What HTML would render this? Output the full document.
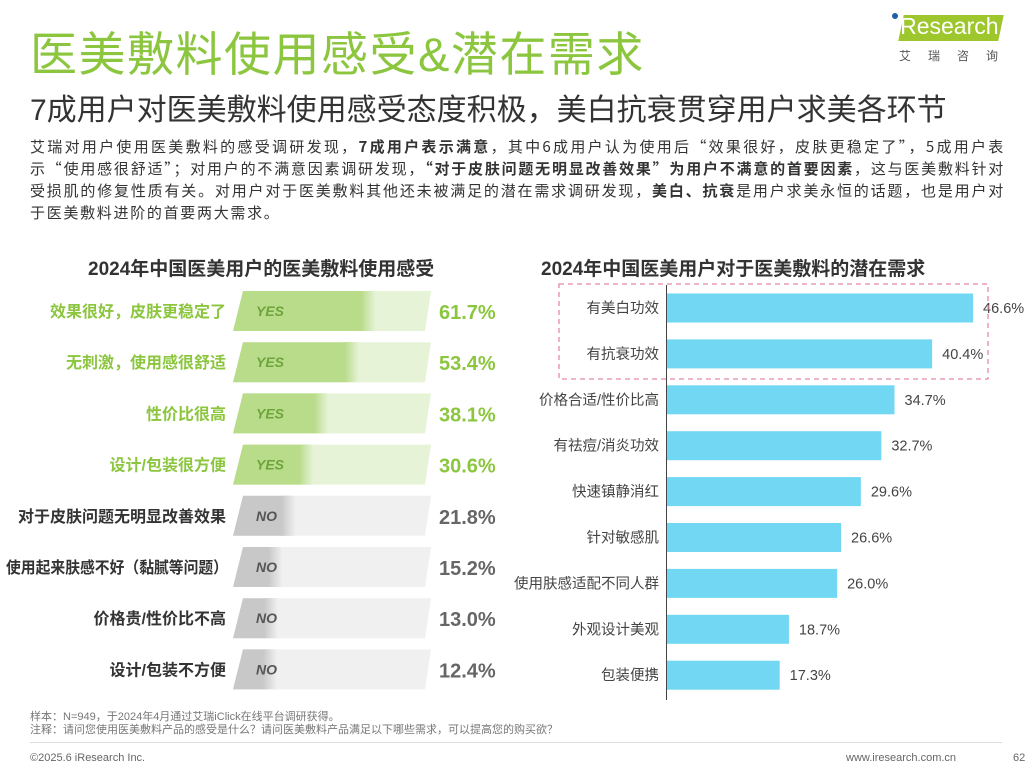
<!DOCTYPE html>
<html><head><meta charset="utf-8">
<style>
body{margin:0;width:1032px;height:771px;background:#fff;font-family:"Liberation Sans","Noto Sans CJK SC",sans-serif;overflow:hidden;position:relative}
.a{position:absolute}
</style></head><body>
<div class="a" style="left:30px;top:16px;font-size:47px;color:#8cc63f;letter-spacing:1.5px;white-space:nowrap">医美敷料使用感受&amp;潜在需求</div>
<div class="a" style="left:893px;top:13px;width:110px;height:28px">
<div class="a" style="left:8px;top:2px;width:100px;height:26px;background:#9dc72c;transform:skewX(-12deg)"></div>
<div class="a" style="left:2px;top:0;font-size:23px;color:#fff">iResearch</div>
<div class="a" style="left:-1px;top:0px;width:6px;height:6px;border-radius:3px;background:#1f5fa8"></div>
<div class="a" style="left:6px;top:34px;font-size:12px;color:#555;letter-spacing:17px;white-space:nowrap">艾瑞咨询</div></div>
<div class="a" style="left:30px;top:85px;font-size:30px;color:#333;white-space:nowrap">7成用户对医美敷料使用感受态度积极，美白抗衰贯穿用户求美各环节</div>
<div class="a" style="left:30px;top:136px;width:975px;font-family:'Noto Sans CJK SC','Liberation Sans',sans-serif;font-size:15px;letter-spacing:1.7px;line-height:22px;color:#333;text-align:justify">艾瑞对用户使用医美敷料的感受调研发现，<b>7成用户表示满意</b>，其中6成用户认为使用后“效果很好，皮肤更稳定了”，5成用户表示“使用感很舒适”；对用户的不满意因素调研发现，<b>“对于皮肤问题无明显改善效果”为用户不满意的首要因素</b>，这与医美敷料针对受损肌的修复性质有关。对用户对于医美敷料其他还未被满足的潜在需求调研发现，<b>美白、抗衰</b>是用户求美永恒的话题，也是用户对于医美敷料进阶的首要两大需求。</div>
<div class="a" style="left:88px;top:254px;font-size:19px;font-weight:bold;color:#333">2024年中国医美用户的医美敷料使用感受</div>
<div class="a" style="left:541px;top:254px;font-size:19px;font-weight:bold;color:#333">2024年中国医美用户对于医美敷料的潜在需求</div>
<svg class="a" style="left:0;top:0" width="1032" height="771" id="svg"></svg>
<div class="a" style="left:30px;top:711px;font-size:11px;color:#777;line-height:13px">样本：N=949，于2024年4月通过艾瑞iClick在线平台调研获得。<br>注释：请问您使用医美敷料产品的感受是什么？请问医美敷料产品满足以下哪些需求，可以提高您的购买欲？</div>
<div class="a" style="left:30px;top:742px;width:972px;border-top:1px solid #ddd"></div>
<div class="a" style="left:30px;top:752px;font-size:11px;color:#666">©2025.6 iResearch Inc.</div>
<div class="a" style="left:846px;top:752px;font-size:11px;color:#666">www.iresearch.com.cn</div>
<div class="a" style="left:1013px;top:752px;font-size:11px;color:#666">62</div>
<script>
const leftCats=["效果很好，皮肤更稳定了","无刺激，使用感很舒适","性价比很高","设计/包装很方便","对于皮肤问题无明显改善效果","使用起来肤感不好（黏腻等问题）","价格贵/性价比不高","设计/包装不方便"];
const leftVals=[61.7,53.4,38.1,30.6,21.8,15.2,13.0,12.4];
const leftYes=[true,true,true,true,false,false,false,false];
const rightCats=["有美白功效","有抗衰功效","价格合适/性价比高","有祛痘/消炎功效","快速镇静消红","针对敏感肌","使用肤感适配不同人群","外观设计美观","包装便携"];
const rightVals=[46.6,40.4,34.7,32.7,29.6,26.6,26.0,18.7,17.3];
const svg=document.getElementById('svg');const NS='http://www.w3.org/2000/svg';
function mk(t,a,txt){const e=document.createElementNS(NS,t);for(const k in a)e.setAttribute(k,a[k]);if(txt!=null)e.textContent=txt;svg.appendChild(e);return e;}
const defs=mk('defs',{});
function grad(id,c1,c2){const g=document.createElementNS(NS,'linearGradient');g.setAttribute('id',id);g.innerHTML=`<stop offset="0" stop-color="${c1}"/><stop offset="1" stop-color="${c2}"/>`;defs.appendChild(g);}
grad('gy','#b9dc8b','#e6f3d6');grad('gn','#c8c8c8','#f0f0f0');
const lY=i=>311+i*51.2, lX=v=>240+2*v+6;
leftCats.forEach((c,i)=>{const y=lY(i),yes=leftYes[i];const h=40;
const lab=mk('text',{x:226,y:y+6,'text-anchor':'end','font-size':16,'font-weight':'bold',fill:yes?'#8cc63f':'#333'},c);

if(lab.getComputedTextLength()>222){lab.setAttribute('textLength',222);lab.setAttribute('lengthAdjust','spacingAndGlyphs');lab.setAttribute('x',228);}
const bg=mk('polygon',{points:`${243},${y-h/2} ${431},${y-h/2} ${425},${y+h/2} ${233},${y+h/2}`,fill:yes?'#e6f3d6':'#f0f0f0'});

const fx=lX(leftVals[i]);
const f=mk('polygon',{points:`${243},${y-h/2} ${fx},${y-h/2} ${fx-6},${y+h/2} ${233},${y+h/2}`,fill:yes?'#b9dc8b':'#c8c8c8'});

mk('rect',{x:fx-8,y:y-h/2,width:14,height:h,fill:yes?'url(#gy)':'url(#gn)'});
const t=mk('text',{x:256,y:y+5,'font-size':14,'font-weight':'bold','font-style':'italic',fill:yes?'#6da53a':'#555'},yes?'YES':'NO');

const v=mk('text',{x:439,y:y+8,'font-size':20,'font-weight':'bold',fill:yes?'#8cc63f':'#666'},leftVals[i].toFixed(1)+'%');
});
const rY=i=>308+i*45.9, rW=v=>6.6*v-1.5;
rightCats.forEach((c,i)=>{const y=rY(i);
const l=mk('text',{x:659,y:y+5,'text-anchor':'end','font-size':14.5,fill:'#444'},c);

const b=mk('rect',{x:667,y:y-14.5,width:rW(rightVals[i]),height:29,fill:'#72d7f3'});

const v=mk('text',{x:667+rW(rightVals[i])+10,y:y+5,'font-size':14.5,fill:'#444'},rightVals[i].toFixed(1)+'%');
});
const ax=mk('line',{x1:666.5,y1:285,x2:666.5,y2:700,stroke:'#444','stroke-width':1});

const box=mk('rect',{x:559,y:284,width:429,height:95,fill:'none',stroke:'#e88aa5','stroke-width':1.3,'stroke-dasharray':'5,4'});

</script>
</body></html>
